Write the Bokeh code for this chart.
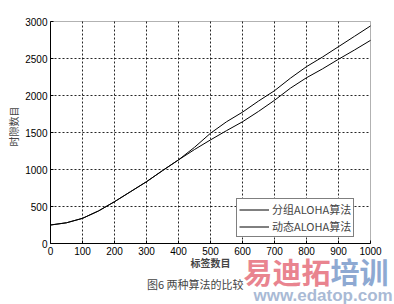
from bokeh.plotting import figure
from bokeh.models import Label, Legend, LegendItem, FixedTicker, Range1d, BoxAnnotation
from bokeh.embed import file_html
from bokeh.resources import INLINE

tags = [0, 50, 100, 150, 200, 250, 300, 350, 400, 450, 500, 550, 600, 650, 700, 750, 800, 850, 900, 950, 1000]
grouped = [250, 280, 340, 440, 565, 700, 835, 985, 1130, 1300, 1490, 1645, 1775, 1925, 2065, 2235, 2390, 2520, 2660, 2800, 2940]
dynamic = [250, 280, 340, 440, 565, 700, 835, 985, 1130, 1270, 1400, 1525, 1645, 1785, 1935, 2100, 2240, 2360, 2490, 2615, 2745]
x_ticks = [0, 100, 200, 300, 400, 500, 600, 700, 800, 900, 1000]
y_ticks = [0, 500, 1000, 1500, 2000, 2500, 3000]

W, H = 394, 304
# plot box in pixels: x 50..370 (0..1000), y 243..21 (0..3000)
XS, YS = 0.32, 0.074
def dx(px):
    return (px - 50) / XS
def dy(py):
    return (243 - py) / YS

p = figure(width=W, height=H, output_backend="svg", toolbar_location=None,
           x_range=Range1d(dx(0), dx(W)), y_range=Range1d(dy(H), dy(0)),
           min_border_left=0, min_border_right=0, min_border_top=0, min_border_bottom=0)
p.title.visible = False
p.background_fill_color = "white"
p.border_fill_color = "white"
p.outline_line_color = None
p.xgrid.visible = False
p.ygrid.visible = False

for ax, ticks in ((p.xaxis[0], x_ticks), (p.yaxis[0], y_ticks)):
    ax.ticker = FixedTicker(ticks=ticks)
    ax.fixed_location = 0
    ax.major_tick_in = 3
    ax.major_tick_out = 0
    ax.minor_tick_line_color = None
    ax.axis_line_color = "black"
    ax.major_tick_line_color = "black"
    ax.major_label_text_font = "Liberation Sans"
    ax.major_label_text_font_size = "10px"
    ax.major_label_text_color = "black"
p.xaxis.bounds = (0, 1000)
p.yaxis.bounds = (0, 3000)
p.xaxis.major_label_standoff = 3
p.yaxis.major_label_standoff = 3

# dotted grid inside the plot box
gx = [t for t in x_ticks if 0 < t < 1000]
gy = [t for t in y_ticks if 0 < t < 3000]
p.segment(x0=gx, y0=[0] * len(gx), x1=gx, y1=[3000] * len(gx),
          line_color="black", line_dash="2 2", line_alpha=0.85, line_width=1)
p.segment(x0=[0] * len(gy), y0=gy, x1=[1000] * len(gy), y1=gy,
          line_color="black", line_dash="2 2", line_alpha=0.85, line_width=1)

p.add_layout(BoxAnnotation(left=0, right=1000, bottom=0, top=3000,
                           fill_alpha=0, line_color="black", line_width=1))

r1 = p.line(tags, grouped, line_color="black", line_width=1)
r2 = p.line(tags, dynamic, line_color="black", line_width=1)

legend = Legend(items=[LegendItem(label="分组ALOHA算法", renderers=[r1]),
                       LegendItem(label="动态ALOHA算法", renderers=[r2])],
                location=(236, H - 237), orientation="vertical")
legend.label_text_font = "Noto Sans CJK SC"
legend.label_text_font_size = "11px"
legend.label_height = 11
legend.glyph_height = 11
legend.glyph_width = 30
legend.label_standoff = 3
legend.spacing = 1
legend.padding = 2
legend.margin = 0
legend.border_line_color = "black"
legend.border_line_width = 1
legend.background_fill_alpha = 1
p.add_layout(legend, "center")

cjk = "Noto Sans CJK SC"
p.add_layout(Label(x=dx(210), y=dy(262), text="标签数目",
                   text_font=cjk, text_font_size="10px", text_align="center", text_baseline="middle",
                   text_font_style="bold"))
p.add_layout(Label(x=dx(13), y=dy(126), text="时隙数目",
                   text_font=cjk, text_font_size="10px", text_align="center", text_baseline="middle",
                   angle=1.5708))
p.add_layout(Label(x=dx(196), y=dy(283), text="图6  两种算法的比较",
                   text_font=cjk, text_font_size="11px", text_align="center", text_baseline="middle"))
# watermark
p.add_layout(Label(x=dx(243), y=dy(270), text="易迪拓",
                   text_font=cjk, text_font_size="29px", text_font_style="bold", text_color="#e9848f",
                   text_align="left", text_baseline="middle"))
p.add_layout(Label(x=dx(330), y=dy(270), text="培训",
                   text_font=cjk, text_font_size="29px", text_font_style="bold", text_color="#8ea9d2",
                   text_align="left", text_baseline="middle"))
p.add_layout(Label(x=dx(253), y=dy(295), text="www.edatop.com",
                   text_font="Liberation Sans", text_font_size="17px", text_font_style="bold",
                   text_color="#a9bad5", text_align="left", text_baseline="middle"))

open("out.html", "w").write(file_html(p, INLINE))
